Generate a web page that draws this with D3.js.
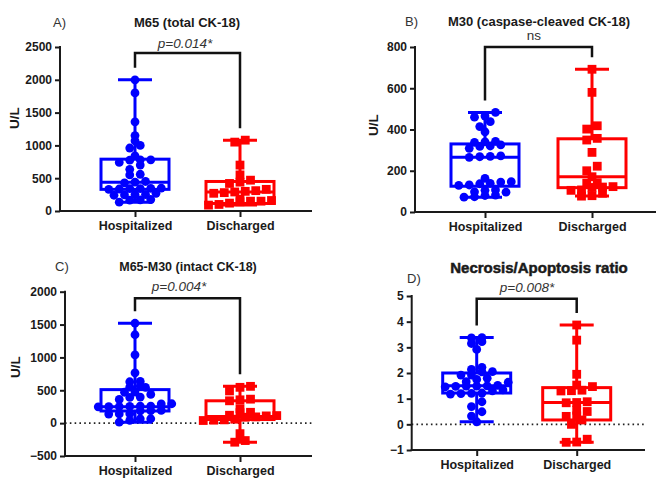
<!DOCTYPE html>
<html><head><meta charset="utf-8">
<script src="https://cdn.jsdelivr.net/npm/d3@7/dist/d3.min.js"></script>
<style>body{margin:0;background:#fff}svg{display:block}text{font-family:"Liberation Sans",Arial,sans-serif}</style>
</head><body><svg id="c" width="660" height="478"></svg>
<script>
const categories = ["Hospitalized", "Discharged"];

// A) M65 (total CK-18)
const m65Hosp = [2000, 1800, 1360, 1150, 1070, 1000, 960, 840, 780, 780, 775, 740, 700, 635, 560, 550, 450, 440, 430, 350, 345, 340, 340, 335, 330, 270, 250, 250, 245, 240, 175, 170, 165, 135];
const m65Disch = [1080, 1050, 700, 550, 470, 440, 420, 330, 310, 300, 290, 280, 270, 180, 160, 150, 150, 140, 120, 100, 90];
const m65Q1 = [330, 115], m65Median = [440, 290], m65Q3 = [790, 450];
const m65Ticks = [0, 500, 1000, 1500, 2000, 2500];

// B) M30 (caspase-cleaved CK-18)
const m30Hosp = [483, 465, 460, 438, 414, 389, 342, 340, 338, 325, 320, 318, 309, 272, 270, 268, 265, 163, 147, 145, 139, 137, 131, 129, 107, 105, 98, 96, 82, 80, 74, 72];
const m30Disch = [692, 580, 418, 402, 357, 349, 289, 222, 200, 171, 142, 140, 123, 121, 119, 107, 105, 91, 79, 77];
const m30Q1 = [125, 118], m30Median = [265, 171], m30Q3 = [330, 355];
const m30Ticks = [0, 200, 400, 600, 800];

// C) M65-M30 (intact CK-18)
const intactHosp = [1520, 1345, 1040, 765, 635, 630, 563, 548, 545, 472, 470, 437, 396, 392, 361, 295, 293, 260, 258, 255, 252, 250, 248, 193, 190, 188, 143, 140, 138, 67, 65, 41, 15];
const intactDisch = [560, 545, 490, 365, 355, 340, 220, 165, 160, 120, 115, 110, 95, 90, 60, 50, 45, 40, -160, -265, -290];
const intactQ1 = [185, 55], intactMedian = [250, 100], intactQ3 = [510, 340];
const intactTicks = [-500, 0, 500, 1000, 1500, 2000];

// D) Necrosis/Apoptosis ratio
const ratioHosp = [3.38, 3.37, 3.22, 3.15, 2.92, 2.22, 2.14, 2.05, 2.04, 1.92, 1.92, 1.80, 1.75, 1.66, 1.64, 1.52, 1.50, 1.49, 1.49, 1.48, 1.46, 1.34, 1.30, 1.22, 1.21, 1.20, 1.18, 0.88, 0.69, 0.49, 0.32, 0.10];
const ratioDisch = [3.87, 3.28, 1.95, 1.53, 1.47, 1.33, 1.31, 1.30, 0.88, 0.85, 0.84, 0.55, 0.50, 0.33, 0.31, 0.17, 0.0, -0.58, -0.70, -0.69];
const ratioQ1 = [1.22, 0.17], ratioMedian = [1.5, 0.85], ratioQ3 = [2.0, 1.43];
const ratioTicks = [-1, 0, 1, 2, 3, 4, 5];

const colors = ["#0000ff", "#ff0000"];
const FONT = '"Liberation Sans",Arial,sans-serif';

const panels = [
  {tag:"A)", title:"M65 (total CK-18)", ylab:"U/L", groups:[m65Hosp,m65Disch], q1:m65Q1, med:m65Median, q3:m65Q3, ticks:m65Ticks,
   x0:60, x1:312, yTop:47, yBot:211, cx:[135,240], titleX:187, titleY:26.5, titleSize:13, tagX:53, tagY:26.5,
   sig:"p=0.014*", sigItalic:true, sigX:185, sigY:48, brY:53, ylabX:19, ylabY:118, zero:false},
  {tag:"B)", title:"M30 (caspase-cleaved CK-18)", ylab:"U/L", groups:[m30Hosp,m30Disch], q1:m30Q1, med:m30Median, q3:m30Q3, ticks:m30Ticks,
   x0:415, x1:656, yTop:47, yBot:212, cx:[485,592], titleX:539, titleY:25.5, titleSize:13, tagX:405, tagY:25.5,
   sig:"ns", sigItalic:false, sigX:534, sigY:40, brY:47, ylabX:378, ylabY:125, zero:false},
  {tag:"C)", title:"M65-M30 (intact CK-18)", ylab:"U/L", groups:[intactHosp,intactDisch], q1:intactQ1, med:intactMedian, q3:intactQ3, ticks:intactTicks,
   x0:65, x1:312, yTop:291.7, yBot:456, cx:[135,240], titleX:188, titleY:270.5, titleSize:12.5, tagX:55, tagY:271,
   sig:"p=0.004*", sigItalic:true, sigX:179, sigY:291, brY:298.3, ylabX:20, ylabY:367, zero:true},
  {tag:"D)", title:"Necrosis/Apoptosis ratio", ylab:null, groups:[ratioHosp,ratioDisch], q1:ratioQ1, med:ratioMedian, q3:ratioQ3, ticks:ratioTicks,
   x0:411.7, x1:645, yTop:296, yBot:450, cx:[476.7,576.7], titleX:539, titleY:273, titleSize:15, tagX:407, tagY:283,
   sig:"p=0.008*", sigItalic:true, sigX:527, sigY:292, brY:298.7, ylabX:null, ylabY:null, zero:true}
];

const svg = d3.select("#c");

function swarm(vals, y, cx, rowH, sp) {
  const pts = vals.map(v => ({v, y: y(v)})).sort((a, b) => b.y - a.y);
  const rows = []; let cur = null;
  pts.forEach(p => {
    if (!cur || cur.start - p.y >= rowH) { cur = {start: p.y, pts: []}; rows.push(cur); }
    cur.pts.push(p);
  });
  rows.forEach(r => {
    const n = r.pts.length;
    r.pts.forEach((p, i) => { p.x = cx + (i - (n - 1) / 2) * sp; });
  });
  return pts;
}

panels.forEach(P => {
  const g = svg.append("g");
  const y = d3.scaleLinear().domain(d3.extent(P.ticks)).range([P.yBot, P.yTop]);
  const x = d3.scalePoint().domain(categories).range(P.cx);

  if (P.zero) {
    g.append("line").attr("x1", P.x0).attr("x2", P.x1).attr("y1", y(0)).attr("y2", y(0))
      .attr("stroke", "#222").attr("stroke-width", 1.6).attr("stroke-dasharray", "1.6 3.2");
  }

  const yAxis = d3.axisLeft(y).tickValues(P.ticks).tickSize(5).tickPadding(3).tickFormat(d3.format("d"));
  const ya = g.append("g").attr("transform", `translate(${P.x0},0)`).call(yAxis);
  const xAxis = d3.axisBottom(x).tickSize(6).tickPadding(4);
  const xa = g.append("g").attr("transform", `translate(0,${P.yBot})`).call(xAxis);
  [ya, xa].forEach(a => {
    a.select(".domain").remove();
    a.selectAll(".tick line").attr("stroke", "#1a1a1a").attr("stroke-width", 2);
    a.selectAll("text").attr("fill", "#1a1a1a").attr("font-family", FONT).attr("font-weight", "bold");
  });
  ya.selectAll("text").attr("font-size", 12);
  xa.selectAll("text").attr("font-size", 12.5);
  g.append("line").attr("x1", P.x0).attr("x2", P.x0).attr("y1", P.yTop - 1).attr("y2", P.yBot + 1)
    .attr("stroke", "#1a1a1a").attr("stroke-width", 2);
  g.append("line").attr("x1", P.x0 - 1).attr("x2", P.x1).attr("y1", P.yBot).attr("y2", P.yBot)
    .attr("stroke", "#1a1a1a").attr("stroke-width", 2);

  categories.forEach((c, i) => {
    const cx = x(c), col = colors[i], vals = P.groups[i];
    const mn = d3.min(vals), mx = d3.max(vals);
    const bw = 34, cw = 17;
    const bg = g.append("g").attr("stroke", col).attr("stroke-width", 3).attr("fill", "none");
    bg.append("line").attr("x1", cx).attr("x2", cx).attr("y1", y(mx)).attr("y2", y(P.q3[i]));
    bg.append("line").attr("x1", cx).attr("x2", cx).attr("y1", y(P.q1[i])).attr("y2", y(mn));
    bg.append("line").attr("x1", cx - cw).attr("x2", cx + cw).attr("y1", y(mx)).attr("y2", y(mx));
    bg.append("line").attr("x1", cx - cw).attr("x2", cx + cw).attr("y1", y(mn)).attr("y2", y(mn));
    bg.append("rect").attr("x", cx - bw).attr("width", 2 * bw).attr("y", y(P.q3[i])).attr("height", y(P.q1[i]) - y(P.q3[i]));
    bg.append("line").attr("x1", cx - bw).attr("x2", cx + bw).attr("y1", y(P.med[i])).attr("y2", y(P.med[i]));

    const pts = swarm(vals, y, cx, 5, 10.5);
    if (i === 0) {
      g.append("g").selectAll("circle").data(pts).join("circle")
        .attr("cx", d => d.x).attr("cy", d => d.y).attr("r", 4.4).attr("fill", col);
    } else {
      g.append("g").selectAll("rect").data(pts).join("rect")
        .attr("x", d => d.x - 4.4).attr("y", d => d.y - 4.4).attr("width", 8.8).attr("height", 8.8).attr("fill", col);
    }
  });

  const xl = x(categories[0]), xr = x(categories[1]);
  const legL = y(d3.max(P.groups[0])) - 12, legR = y(d3.max(P.groups[1])) - 12;
  g.append("path").attr("d", `M${xl},${legL}V${P.brY}H${xr}V${legR}`)
    .attr("fill", "none").attr("stroke", "#111").attr("stroke-width", 2.5);
  g.append("text").attr("x", P.sigX).attr("y", P.sigY).attr("text-anchor", "middle")
    .attr("font-size", 13.5).attr("font-style", P.sigItalic ? "italic" : "normal")
    .attr("fill", "#333").text(P.sig);

  const t = g.append("text").attr("x", P.titleX).attr("y", P.titleY).attr("text-anchor", "middle")
    .attr("font-size", P.titleSize).attr("font-weight", "bold").attr("fill", "#1a1a1a").text(P.title);
  if (P.titleSize > 14) t.attr("stroke", "#1a1a1a").attr("stroke-width", 0.5);
  g.append("text").attr("x", P.tagX).attr("y", P.tagY).attr("font-size", 13).attr("fill", "#333").text(P.tag);
  if (P.ylab) {
    g.append("text").attr("transform", `translate(${P.ylabX},${P.ylabY}) rotate(-90)`).attr("text-anchor", "middle")
      .attr("font-size", 13.5).attr("font-weight", "bold").attr("fill", "#1a1a1a").text(P.ylab);
  }
});
</script></body></html>
